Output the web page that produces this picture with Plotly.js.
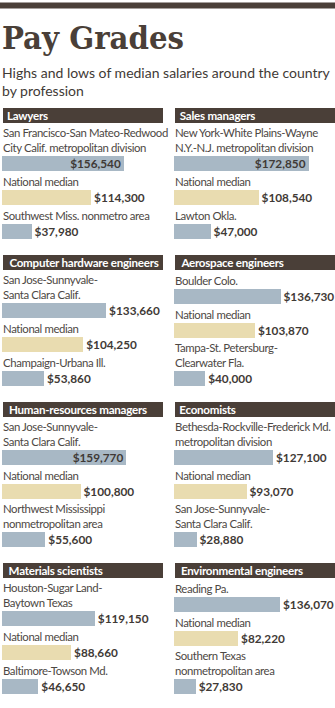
<!DOCTYPE html>
<html><head><meta charset="utf-8">
<script src="https://cdn.plot.ly/plotly-3.0.1.min.js"></script>
<style>html,body{margin:0;padding:0;background:#fff}#chart{width:335px;height:708px}</style>
</head><body><div id="chart"></div>
<script>
const professions = ['Lawyers','Sales managers','Computer hardware engineers','Aerospace engineers','Human-resources managers','Economists','Materials scientists','Environmental engineers'];
const highPlaces = ['San Francisco-San Mateo-Redwood<br>City Calif. metropolitan division','New York-White Plains-Wayne<br>N.Y.-N.J. metropolitan division','San Jose-Sunnyvale-<br>Santa Clara Calif.','Boulder Colo.','San Jose-Sunnyvale-<br>Santa Clara Calif.','Bethesda-Rockville-Frederick Md.<br>metropolitan division','Houston-Sugar Land-<br>Baytown Texas','Reading Pa.'];
const highValues = [156540,172850,133660,136730,159770,127100,119150,136070];
const medianLabel = 'National median';
const medianValues = [114300,108540,104250,103870,100800,93070,88660,82220];
const lowPlaces = ['Southwest Miss. nonmetro area','Lawton Okla.','Champaign-Urbana Ill.','Tampa-St. Petersburg-<br>Clearwater Fla.','Northwest Mississippi<br>nonmetropolitan area','San Jose-Sunnyvale-<br>Santa Clara Calif.','Baltimore-Towson Md.','Southern Texas<br>nonmetropolitan area'];
const lowValues = [37980,47000,53860,40000,55600,28880,46650,27830];
const titleText = 'Pay Grades';
const subtitleText = 'Highs and lows of median salaries around the country<br>by profession';

const W=335,H=708;
const LINE=14, BAR=15, GAP=5, HEAD=15, ROWGAP=16, TOP0=108;
const PX_PER_DOLLAR=0.000779;
const DARK='#4a3f38', BLUE='#a8b8c5', TAN='#e9dcb0', TXT='#3f3a36', LBL='#4d4844';
const cols=[{barX:2,headX0:3,headX1:163,end:165},{barX:174,headX0:175,headX1:335,end:335}];
const fmt=v=>'$'+v.toLocaleString('en-US');
const lines=s=>s.split('<br>').length;

const traces=[], annotations=[], shapes=[];
const spacing={}; // annotation index -> letter-spacing
const layout={width:W,height:H,margin:{l:0,r:0,t:0,b:0},showlegend:false,paper_bgcolor:'#fff',plot_bgcolor:'rgba(0,0,0,0)',bargap:0};

shapes.push({type:'rect',xref:'paper',yref:'paper',x0:0,x1:1,y0:1-8.5/H,y1:1-2.5/H,fillcolor:DARK,line:{width:0}});
annotations.push({xref:'paper',yref:'paper',x:0,y:1-17/H,xanchor:'left',yanchor:'top',showarrow:false,borderpad:0,text:'<b>'+titleText+'</b>',font:{family:'DejaVu Serif Condensed, DejaVu Serif',size:32.5,color:DARK},xshift:1});
annotations.push({xref:'paper',yref:'paper',x:0,y:1-63/H,xanchor:'left',yanchor:'top',align:'left',showarrow:false,borderpad:0,text:subtitleText,font:{family:'Lato',size:14,color:TXT},xshift:1});

let rowTop=TOP0;
for(let r=0;r<4;r++){
  const panelItems=[0,1].map(c=>{
    const i=2*r+c;
    return [
      {label:highPlaces[i],value:highValues[i],color:BLUE},
      {label:medianLabel,value:medianValues[i],color:TAN},
      {label:lowPlaces[i],value:lowValues[i],color:BLUE}
    ];
  });
  const contents=panelItems.map(items=>items.reduce((s,it)=>s+GAP+lines(it.label)*LINE+BAR,0));
  const content=Math.max(...contents);
  for(let c=0;c<2;c++){
    const i=2*r+c, n=i+1, col=cols[c], items=panelItems[c];
    const xk=n===1?'xaxis':'xaxis'+n, yk=n===1?'yaxis':'yaxis'+n;
    const xr=n===1?'x':'x'+n, yr=n===1?'y':'y'+n;
    const top=rowTop+HEAD, h=contents[c];
    const bottomOffset=content-h;
    layout[xk]={domain:[col.barX/W,col.end/W],range:[0,(col.end-col.barX)/PX_PER_DOLLAR],visible:false,fixedrange:true,anchor:yr};
    layout[yk]={domain:[1-(top+content)/H,1-(top+bottomOffset)/H],range:[h,0],visible:false,fixedrange:true,anchor:xr};
    shapes.push({type:'rect',xref:'paper',yref:'paper',x0:col.headX0/W,x1:col.headX1/W,y0:1-(rowTop+HEAD)/H,y1:1-rowTop/H,fillcolor:DARK,line:{width:0}});
    spacing[annotations.length]='-0.25px';
    annotations.push({xref:'paper',yref:'paper',x:(col.headX0+2)/W,y:1-(rowTop+HEAD/2)/H,xanchor:'left',yanchor:'middle',showarrow:false,borderpad:0,text:'<b>'+professions[i]+'</b>',font:{family:'Lato',size:11.6,color:'#fff'}});
    let cur=0; const ys=[];
    items.forEach(it=>{
      cur+=GAP+lines(it.label)*LINE;
      ys.push(cur+BAR/2);
      spacing[annotations.length]='-0.4px';
      annotations.push({xref:xr,yref:yr,x:0,y:cur-1,xanchor:'left',yanchor:'bottom',align:'left',showarrow:false,borderpad:0,text:it.label,font:{family:'Lato',size:11.4,color:LBL},xshift:0});
      cur+=BAR;
    });
    traces.push({type:'bar',orientation:'h',xaxis:xr,yaxis:yr,
      x:items.map(it=>it.value),y:ys,width:items.map(()=>BAR),
      marker:{color:items.map(it=>it.color),line:{width:0}},
      text:items.map(it=>'<b>'+fmt(it.value)+'</b>'),
      textposition:items.map(it=>it.value>=150000?'inside':'outside'),
      insidetextanchor:'end',constraintext:'none',cliponaxis:false,
      textfont:{family:'Lato',size:11.8,color:TXT},
      insidetextfont:{family:'Lato',size:11.8,color:TXT},
      outsidetextfont:{family:'Lato',size:11.8,color:TXT},
      hoverinfo:'skip'});
  }
  rowTop+=HEAD+content+ROWGAP;
}
layout.annotations=annotations; layout.shapes=shapes;
Plotly.newPlot('chart',traces,layout,{staticPlot:true,displayModeBar:false}).then(gd=>{
  Object.keys(spacing).forEach(k=>{
    gd.querySelectorAll('.annotation[data-index="'+k+'"] text').forEach(t=>{t.style.letterSpacing=spacing[k];});
  });
});
</script></body></html>
